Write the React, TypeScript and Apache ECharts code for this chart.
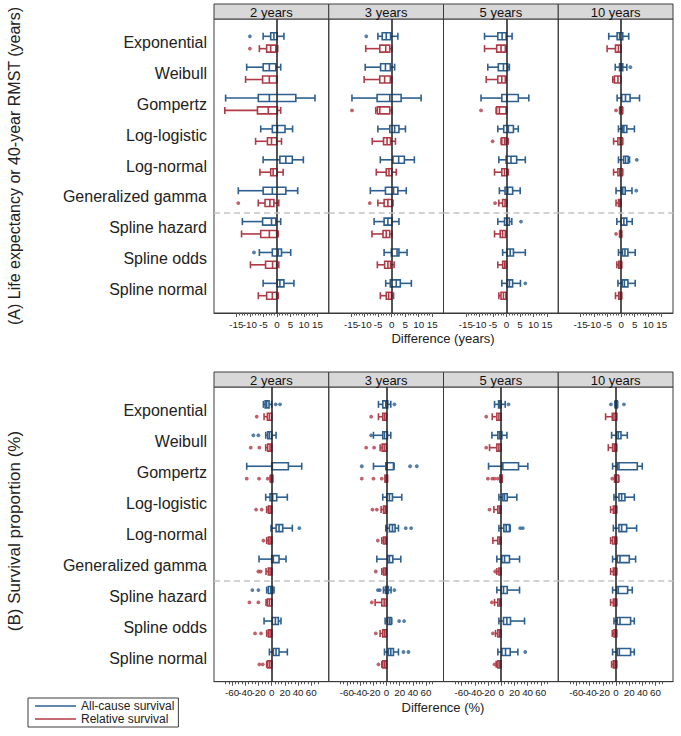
import React, { useEffect, useRef } from "react";
import * as echarts from "echarts";

// ---------- categories / labels ----------
const models = ["Exponential", "Weibull", "Gompertz", "Log-logistic", "Log-normal", "Generalized gamma", "Spline hazard", "Spline odds", "Spline normal"];
const timeLabels = ["2 years", "3 years", "5 years", "10 years"];
const seriesNames = ["All-cause survival", "Relative survival"];
const lifeTickLabels = [-15, -10, -5, 0, 5, 10, 15];
const propTickLabels = [-60, -40, -20, 0, 20, 40, 60];

// ---------- (A) life expectancy / RMST difference (years): [min, q1, median, q3, max] per model ----------
const lifeAll2y = [[-5.1, -2.3, -1.1, 0.1, 2.6], [-11.2, -5.1, -2.8, -0.4, 1.4], [-19, -6.9, -2.8, 7.0, 14.1], [-6, -1.7, 0.2, 3.0, 5.8], [-5.1, 1.1, 3.3, 5.7, 9.8], [-14.3, -5.1, -1.7, 3.3, 7.7], [-12.8, -5.3, -2.0, -0.4, 1.4], [-6.5, -1.7, 0.5, 1.7, 5.1], [-5.1, 0.1, 1.1, 2.6, 6.3]];
const lifeRel2y = [[-6.5, -3.8, -2.3, -0.4, 0.3], [-11.6, -5.3, -2.8, -0.1, 0.1], [-19.3, -7.2, -3.2, 0.2, 1.4], [-7.9, -3.5, -2.0, -0.1, 1.7], [-6.3, -2.3, -1.4, 0.1, 2.3], [-6.9, -4.4, -2.6, -1.1, 0.7], [-13.1, -6.0, -2.8, -0.1, 0.5], [-9.8, -4.2, -1.6, -0.1, 0.7], [-6.9, -3.8, -1.7, -0.1, 0.5]];
const lifeAllOut2y = [[0, -10], [7, -8.5]];
const lifeRelOut2y = [[0, -10], [5, -14.3]];

const lifeAll3y = [[-5.1, -3.5, -2.0, -0.4, 2.3], [-9.8, -4.1, -2.3, -0.5, 1.1], [-14.7, -5.4, -0.7, 3.5, 10.9], [-5.1, -0.7, 1.1, 2.7, 5.1], [-4.2, 0.5, 2.6, 4.7, 8.4], [-7.9, -2.3, 0.7, 2.3, 5.4], [-6.5, -2.8, -1.4, 0.1, 2.7], [-2.8, -0.1, 2.0, 2.7, 5.7], [-2.2, -0.5, 1.7, 3.2, 7.3]];
const lifeRel3y = [[-9.6, -4.4, -2.2, -0.7, 0.1], [-10.2, -4.4, -2.6, -0.5, 0.1], [-5.9, -5.3, -4.4, -0.7, 0.1], [-7.2, -3.0, -1.7, -0.4, 1.4], [-5.7, -2.0, -1.0, 0.1, 1.7], [-5.1, -2.8, -1.4, 0.1, 0.5], [-7.3, -3.2, -2.0, -0.7, 0.1], [-5.3, -2.6, -1.4, -0.4, 0.9], [-4.2, -2.0, -1.1, -0.1, 0.7]];
const lifeAllOut3y = [[0, -9.4]];
const lifeRelOut3y = [[2, -14.7], [5, -8.1]];

const lifeAll5y = [[-8.1, -3.2, -1.6, -0.1, 2.1], [-6.9, -3.0, -1.1, 0.5, 1.1], [-9.4, -1.7, 0.2, 4.4, 8.3], [-3.2, -1.0, 0.7, 2.6, 4.4], [-2.8, -0.1, 1.7, 3.8, 7.0], [-2.6, -0.5, 0.5, 2.3, 5.1], [-3.2, -0.7, 0.1, 1.1, 2.0], [-1.4, 0.2, 1.4, 2.6, 7.0], [-1.7, 0.2, 1.1, 2.3, 5.2]];
const lifeRel5y = [[-8.1, -3.6, -2.0, -0.4, -0.1], [-7.5, -3.2, -1.7, -0.4, -0.1], [-3.8, -3.6, -2.6, -0.1, 0.2], [-2.0, -1.7, -0.7, -0.1, 0.7], [-4.4, -1.7, -0.7, 0.2, 0.7], [-2.8, -1.4, -0.5, 0.1, 0.2], [-4.4, -2.3, -1.4, -0.4, -0.1], [-3.2, -1.4, -0.7, -0.1, 0.1], [-2.8, -2.0, -1.1, -0.1, -0.1]];
const lifeAllOut5y = [[6, 5.4], [8, 7.0]];
const lifeRelOut5y = [[2, -9.4], [3, -5.1], [5, -4.2]];

const lifeAll10y = [[-4.6, -1.5, -0.6, 0.6, 2.8], [-2.2, -0.6, 0, 0.6, 2.1], [-1.5, 0.2, 1.6, 3.3, 6.8], [-1.0, 0.4, 1.0, 2.1, 4.9], [-1.0, 0.9, 1.6, 2.6, 3.1], [-1.9, 0, 0.6, 1.5, 4.0], [-1.6, 0, 1.0, 2.1, 4.1], [-1.0, 0.5, 1.4, 2.5, 5.2], [-1.2, 0.4, 1.2, 2.5, 5.2]];
const lifeRel10y = [[-5.2, -2.1, -1.0, 0, 0], [-3.1, -2.5, -1.2, 0, 0], [-0.6, -0.4, 0, 0.4, 0.6], [-2.8, -1.2, -0.4, 0.4, 0.6], [-2.8, -1.2, -0.5, 0.4, 0.6], [-1.9, -1.0, -0.5, 0, 0], [-0.6, -0.4, -0.2, 0.1, 0.2], [-1.6, -0.9, -0.4, 0.1, 0.2], [-2.1, -0.9, -0.4, 0.1, 0.2]];
const lifeAllOut10y = [[1, 3.4], [4, 5.8], [5, 5.6]];
const lifeRelOut10y = [[2, -1.9], [6, -1.9]];

// ---------- (B) survival proportion difference (%) ----------
const propAll2y = [[-12.6, -10, -7.6, -4, 0], [-9.1, -6.1, -3.5, 0, 6.6], [-37.9, 0, 1, 25.3, 45.5], [-9.1, -2.5, 1.5, 7.6, 23.7], [-1, 6.6, 11.1, 16.7, 31.3], [-19.2, 0, 2.5, 11.1, 21.7], [-7.6, -5.1, -1.5, 1.5, 3.5], [-11.6, 1, 5.6, 10.1, 14.1], [-3.5, 2.5, 6.6, 11.1, 23.7]];
const propRel2y = [[-11.6, -6.6, -3.5, 0, 0], [-9.1, -6.1, -2.5, 0, 0], [-2.5, -1.5, 0, 1.5, 1.5], [-7.6, -5.1, -2.5, 0, 0], [-7.6, -5.1, -2.5, 0, 0], [-8.6, -5.1, -2.5, 0, 0], [-8.6, -6.6, -3.5, 0, 0], [-7.6, -5.1, -2.5, 0, 0], [-7.6, -6.1, -3, 0, 0]];
const propAllOut2y = [[0, 6.1], [0, 12.6], [1, -27.8], [1, -20.2], [4, 41.9], [6, -29.3], [6, -20.2]];
const propRelOut2y = [[0, -22.7], [1, -31.8], [1, -18.7], [2, -37.9], [2, -19.2], [2, -6.1], [3, -23.7], [3, -15.2], [4, -12.6], [5, -20.2], [5, -16.7], [6, -33.8], [6, -20.2], [7, -25.3], [7, -16.2], [8, -18.7], [8, -13.6]];

const propAll3y = [[-12.1, -5.6, -1, 2, 6.6], [-19.7, -5.6, -3, 1.5, 6.6], [-19.7, -1, 0.5, 10.6, 11.6], [-5.6, 0.5, 4.5, 9.1, 23.2], [-1, 4.5, 9.1, 13.1, 18.2], [-14.6, 2, 4.5, 9.6, 21.7], [-4.5, -1.5, 0.5, 3, 7], [-2, 1.5, 4.5, 7.1, 8.1], [-3, 3, 6.6, 10.6, 18.2]];
const propRel3y = [[-12.1, -5.6, -3, 0, 0], [-9.6, -6.6, -3.5, 0, 0], [-2, -2, 0, 1.5, 1.5], [-8.1, -4.5, -2, 0, 0], [-7.1, -4.5, -2, 0, 0], [-7.1, -4.5, -2, 0, 0], [-17.2, -7.1, -3.5, 0, 0], [-9.6, -5.6, -3, 0, 0], [-7.1, -5.6, -3, 0, 0]];
const propAllOut3y = [[0, 12.1], [1, -23.2], [2, -37.4], [2, 35.9], [2, 46], [4, 29.3], [4, 37.4], [6, -13], [6, -10], [6, 12], [7, 19.2], [7, 26.8], [8, 25.8], [8, 33.3]];
const propRelOut3y = [[0, -23.2], [1, -30.8], [1, -18.7], [2, -37.4], [2, -19.7], [2, -7.1], [3, -21.2], [3, -14.6], [4, -13.1], [5, -16.2], [6, -22.2], [7, -16.2], [8, -12.1]];

const propAll5y = [[-10.1, -4, -2.5, 0, 6.1], [-14.1, -5.1, -2.5, 1, 8.6], [-19.2, 1, 2.5, 26.3, 40.4], [-3.5, 2.5, 5.1, 9.1, 23.7], [-3.5, 4, 7.6, 12.6, 13.6], [-6.6, 1, 5.1, 12.6, 27.8], [-6.6, 0, 3.5, 9.1, 27.8], [-3.5, 3.5, 8.6, 14.1, 35.4], [-5.1, 1, 6.6, 13.6, 25.3]];
const propRel5y = [[-13.6, -6.6, -3.5, 0, 0], [-17.7, -6.6, -3.5, 0, 0], [-2, -2, 0, 1.5, 1.5], [-11.1, -5.1, -2.5, 0, 0], [-12.6, -5.1, -2.5, 0, 0], [-6.6, -3.5, -1.5, 0, 0], [-10.1, -5.1, -2.5, 0, 0], [-8.6, -5.1, -2.5, 0, 0], [-7.6, -5.1, -2.5, 0, 0]];
const propAllOut5y = [[0, 11.1], [4, 28.8], [4, 32.8], [8, 36.4]];
const propRelOut5y = [[0, -22.7], [1, -22.7], [2, -20.2], [2, -13.6], [2, -10.1], [2, -5.1], [3, -17.7], [5, -9.1], [6, -14.1], [7, -12.6], [8, -10.1]];

const propAll10y = [[-1.5, -1, 0, 2, 2.5], [-6.6, 1, 3.5, 7.6, 17.2], [-5.1, 2, 4.5, 32.3, 39.9], [-3, 4.5, 8.6, 13.6, 27.8], [-4, 4.5, 8.6, 16.2, 31.3], [-5.1, 2, 6.1, 20.2, 29.8], [-5.1, 1, 3.5, 17.7, 24.7], [-3, 2, 6.1, 22.2, 27.8], [-5.1, 2, 5.1, 22.2, 27.8]];
const propRel10y = [[-15.7, -5.6, -3, 1, 1], [-11.6, -5.1, -2.5, 1, 1], [-2, -2, 0, 3.5, 4.5], [-8.1, -4, -1.5, 1, 1], [-8.1, -5.1, -2, 1, 1], [-8.1, -4, -1.5, 1, 1], [-8.1, -4, -1.5, 1, 1], [-5.6, -3, -1, 1, 1], [-6.6, -4, -1.5, 1, 1]];
const propAllOut10y = [[0, -7.6], [0, 12.1]];
const propRelOut10y = [[2, -5.6]];

// ---------- styling / layout ----------
const BLUE = "#2d5f8f";
const RED = "#b13a47";
const FONT = "'Liberation Sans', Arial, Helvetica, sans-serif";
const PANEL_LEFT = 214;
const PANEL_W = 114.75;
const OFFSET = 0.2;
const SEPARATOR = 5.5; // between parametric and spline models

const sections = [
  {
    top: 19, height: 294, headerTop: 4, min: -23.3, max: 19.2, minorStep: 1, minorFrom: -15, minorTo: 15,
    labels: lifeTickLabels, title: "(A) Life expectancy or 40-year RMST (years)", titleY: 166, titleSize: 16,
    xTitle: "Difference (years)", xTitleY: 338,
    panels: [
      [lifeAll2y, lifeRel2y, lifeAllOut2y, lifeRelOut2y],
      [lifeAll3y, lifeRel3y, lifeAllOut3y, lifeRelOut3y],
      [lifeAll5y, lifeRel5y, lifeAllOut5y, lifeRelOut5y],
      [lifeAll10y, lifeRel10y, lifeAllOut10y, lifeRelOut10y],
    ],
  },
  {
    top: 387, height: 294.7, headerTop: 372, min: -87.5, max: 86.5, minorStep: 5, minorFrom: -70, minorTo: 70,
    labels: propTickLabels, title: "(B) Survival proportion (%)", titleY: 531, titleSize: 17,
    xTitle: "Difference (%)", xTitleY: 707,
    panels: [
      [propAll2y, propRel2y, propAllOut2y, propRelOut2y],
      [propAll3y, propRel3y, propAllOut3y, propRelOut3y],
      [propAll5y, propRel5y, propAllOut5y, propRelOut5y],
      [propAll10y, propRel10y, propAllOut10y, propRelOut10y],
    ],
  },
];

const renderBox = (params: any, api: any) => {
  const y = api.value(0);
  const p = [1, 2, 3, 4, 5].map((i) => api.coord([api.value(i), y]));
  const cy = p[0][1];
  const h = 3.5;
  const color = api.visual("color");
  const st = { stroke: color, lineWidth: 1.6, fill: "none" };
  return {
    type: "group",
    children: [
      { type: "line", shape: { x1: p[0][0], y1: cy, x2: p[1][0], y2: cy }, style: st },
      { type: "line", shape: { x1: p[3][0], y1: cy, x2: p[4][0], y2: cy }, style: st },
      { type: "line", shape: { x1: p[0][0], y1: cy - h, x2: p[0][0], y2: cy + h }, style: st },
      { type: "line", shape: { x1: p[4][0], y1: cy - h, x2: p[4][0], y2: cy + h }, style: st },
      { type: "rect", shape: { x: p[1][0], y: cy - h, width: Math.max(p[3][0] - p[1][0], 0.5), height: 2 * h }, style: { stroke: color, lineWidth: 1.6, fill: "rgba(255,255,255,0)" } },
      { type: "line", shape: { x1: p[2][0], y1: cy - h, x2: p[2][0], y2: cy + h }, style: st },
    ],
  };
};

function buildOption() {
  const grid: any[] = [];
  const xAxis: any[] = [];
  const yAxis: any[] = [];
  const series: any[] = [];
  const graphic: any[] = [];

  sections.forEach((sec, s) => {
    const minor: number[] = [];
    for (let v = sec.minorFrom; v <= sec.minorTo + 1e-9; v += sec.minorStep) minor.push(v);
    // labels split into two alternating sets so no single axis has touching labels
    const labelSets = [sec.labels.filter((_, i) => i % 2 === 0), sec.labels.filter((_, i) => i % 2 === 1)];
    sec.panels.forEach((pan, k) => {
      const g = s * 4 + k;
      const left = PANEL_LEFT + k * PANEL_W;
      const dataAxis = xAxis.length;
      grid.push({ left, top: sec.top, width: PANEL_W, height: sec.height, show: true, borderColor: "#3a3a3a", borderWidth: 1, containLabel: false });
      xAxis.push({
        type: "value", gridIndex: g, min: sec.min, max: sec.max, position: "bottom",
        axisLine: { show: true, onZero: false, lineStyle: { color: "#3a3a3a", width: 1 } },
        axisTick: { show: true, customValues: minor, length: 2.5, lineStyle: { color: "#555", width: 1 } },
        axisLabel: { show: false }, splitLine: { show: false },
      });
      labelSets.forEach((vals) => {
        xAxis.push({
          type: "value", gridIndex: g, min: sec.min, max: sec.max, position: "bottom", offset: 0,
          axisLine: { show: false, onZero: false },
          axisTick: { show: true, customValues: vals, length: 4, lineStyle: { color: "#555", width: 1 } },
          axisLabel: {
            show: true, customValues: vals, showMinLabel: true, showMaxLabel: true, hideOverlap: false,
            fontSize: 9.8, color: "#222", margin: 6, fontFamily: FONT,
          },
          splitLine: { show: false },
        });
      });
      yAxis.push({
        type: "value", gridIndex: g, min: -0.76, max: 8.76, inverse: true,
        axisLine: { show: false, onZero: false }, axisTick: { show: false }, splitLine: { show: false },
        axisLabel: {
          show: k === 0, customValues: models.map((_, i) => i), showMinLabel: true, showMaxLabel: true, hideOverlap: false,
          formatter: (v: number) => models[Math.round(v)] ?? "",
          fontSize: 16, color: "#222", margin: 7, fontFamily: FONT,
        },
      });
      const [all, rel, allOut, relOut] = pan as any[];
      [all, rel].forEach((arr: number[][], t: number) => {
        const off = t === 0 ? -OFFSET : OFFSET;
        series.push({
          type: "custom", name: seriesNames[t], xAxisIndex: dataAxis, yAxisIndex: g,
          itemStyle: { color: t === 0 ? BLUE : RED },
          renderItem: renderBox,
          encode: { x: [1, 2, 3, 4, 5], y: 0 },
          data: arr.map((b, i) => [i + off, ...b]),
          silent: true,
          z: 3,
          markLine: t === 0 ? {
            silent: true, symbol: ["none", "none"], label: { show: false }, animation: false,
            data: [
              { xAxis: 0, lineStyle: { color: "#2a2a2a", width: 1.6, type: "solid" } },
              { yAxis: SEPARATOR, lineStyle: { color: "#c4c4c4", width: 1.6, type: [6, 4] } },
            ],
          } : undefined,
        });
      });
      [allOut, relOut].forEach((arr: number[][], t: number) => {
        const off = t === 0 ? -OFFSET : OFFSET;
        series.push({
          type: "scatter", name: seriesNames[t], xAxisIndex: dataAxis, yAxisIndex: g,
          symbol: "circle", symbolSize: 3.8, silent: true,
          itemStyle: { color: t === 0 ? BLUE : RED },
          data: arr.map(([m, v]) => [v, m + off]),
          z: 3,
        });
      });
      // header strip
      graphic.push({
        type: "rect", shape: { x: left, y: sec.headerTop, width: PANEL_W, height: 15 },
        style: { fill: "#d8d8d8", stroke: "#3a3a3a", lineWidth: 1 }, silent: true,
      });
      graphic.push({
        type: "text", x: left + PANEL_W / 2, y: sec.headerTop + 8, silent: true,
        style: { text: timeLabels[k], fontSize: 13, fontFamily: FONT, fill: "#111", align: "center", verticalAlign: "middle", textAlign: "center", textVerticalAlign: "middle" },
      });
    });
    graphic.push({
      type: "text", x: 14, y: sec.titleY, rotation: Math.PI / 2, silent: true,
      style: { text: sec.title, fontSize: sec.titleSize, fontFamily: FONT, fill: "#222", align: "center", verticalAlign: "middle", textAlign: "center", textVerticalAlign: "middle" },
    });
    graphic.push({
      type: "text", x: PANEL_LEFT + 2 * PANEL_W - 0.5, y: sec.xTitleY, silent: true,
      style: { text: sec.xTitle, fontSize: 13, fontFamily: FONT, fill: "#222", align: "center", verticalAlign: "middle", textAlign: "center", textVerticalAlign: "middle" },
    });
  });

  return {
    animation: false,
    backgroundColor: "#ffffff",
    textStyle: { fontFamily: FONT },
    grid, xAxis, yAxis, series, graphic,
    legend: {
      orient: "vertical", left: 28, top: 698,
      padding: [2, 4, 2, 7], itemGap: 1, itemWidth: 41, itemHeight: 1.6, itemTextGap: 7,
      borderColor: "#3a3a3a", borderWidth: 1, backgroundColor: "#fff",
      textStyle: { fontSize: 12, color: "#222", fontFamily: FONT },
      selectedMode: false,
      data: [
        { name: seriesNames[0], icon: "rect", itemStyle: { color: BLUE } },
        { name: seriesNames[1], icon: "rect", itemStyle: { color: RED } },
      ],
    },
  };
}

export default function App() {
  const ref = useRef<HTMLDivElement>(null);
  useEffect(() => {
    if (!ref.current) return;
    const chart = echarts.init(ref.current, null, { renderer: "svg" });
    chart.setOption(buildOption() as any);
    return () => chart.dispose();
  }, []);
  return <div ref={ref} style={{ position: "absolute", left: 0, top: 0, width: 681, height: 736, background: "#fff" }} />;
}
